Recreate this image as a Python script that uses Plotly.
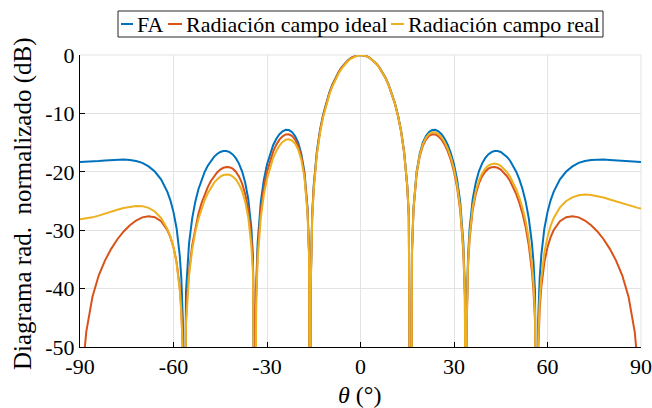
import plotly.graph_objects as go

theta_pos = [0, 1, 2, 3, 4, 5, 6, 7, 8, 9,
             10, 11, 12, 13, 14, 15, 15.5, 16, 16.17, 16.5,
             17, 18, 19, 20, 21, 22, 23, 24, 25, 26,
             27, 28, 29, 30, 31, 32, 33, 33.5, 33.84, 34,
             34.5, 35, 36, 37, 38, 39, 40, 41, 42, 43,
             44, 45, 46, 47, 48, 49, 50, 51, 52, 53,
             54, 55, 55.5, 56, 56.63, 57, 57.5, 58, 59, 60,
             61, 62, 64, 66, 68, 70, 72, 74, 76, 78,
             80, 82, 84, 86, 88, 89, 90]

# FA (symmetric), dB
fa_pos = [0, -0.06, -0.22, -0.50, -0.90, -1.43, -2.08, -2.89, -3.86, -5.03,
          -6.43, -8.12, -10.21, -12.87, -16.52, -22.3, -27.35, -39.7, -100, -33.8,
          -26.2, -19.97, -16.89, -15.02, -13.87, -13.18, -12.85, -12.82, -13.06, -13.57,
          -14.34, -15.41, -16.85, -18.76, -21.36, -25.2, -32.2, -40.1, -100, -46.5,
          -34.5, -29.8, -24.7, -21.83, -19.91, -18.59, -17.66, -17.03, -16.64, -16.45,
          -16.45, -16.61, -16.95, -17.44, -18.10, -18.96, -20.02, -21.34, -22.99, -25.11,
          -27.96, -32.2, -35.4, -40.5, -100, -45.5, -38.1, -34.3, -29.70, -26.9,
          -24.89, -23.40, -21.30, -19.95, -19.07, -18.48, -18.14, -17.96, -17.89, -17.91,
          -17.98, -18.07, -18.16, -18.25, -18.30, -18.31, -18.32]

# Radiación campo ideal (symmetric), dB
ideal_pos = [0, -0.06, -0.23, -0.51, -0.92, -1.46, -2.13, -2.96, -3.95, -5.14,
             -6.56, -8.28, -10.40, -13.10, -16.78, -22.60, -27.67, -40.04, -100, -34.17,
             -26.59, -20.41, -17.38, -15.56, -14.47, -13.84, -13.57, -13.61, -13.92, -14.50,
             -15.34, -16.50, -18.01, -20.01, -22.70, -26.63, -33.73, -41.68, -100, -48.13,
             -36.18, -31.53, -26.54, -23.78, -21.98, -20.78, -19.98, -19.47, -19.22, -19.17,
             -19.31, -19.62, -20.11, -20.76, -21.58, -22.62, -23.86, -25.36, -27.20, -29.52,
             -32.58, -37.03, -40.34, -45.55, -100, -50.78, -43.49, -39.81, -35.46, -32.92,
             -31.18, -29.97, -28.46, -27.77, -27.60, -27.80, -28.34, -29.15, -30.21, -31.55,
             -33.19, -35.20, -37.77, -41.38, -47.44, -53.47, -100]

# Radiación campo real, positive angles, dB
real_pos = [0, -0.06, -0.23, -0.52, -0.92, -1.46, -2.12, -2.94, -3.92, -5.10,
            -6.51, -8.22, -10.32, -13.00, -16.66, -22.46, -27.52, -39.88, -100, -34.0,
            -26.4, -20.20, -17.15, -15.31, -14.19, -13.53, -13.24, -13.24, -13.53, -14.09,
            -14.92, -16.06, -17.57, -19.56, -22.24, -26.17, -33.25, -41.1, -100, -47.6,
            -35.7, -31.05, -26.05, -23.29, -21.48, -20.27, -19.46, -18.95, -18.69, -18.60,
            -18.70, -18.98, -19.45, -20.06, -20.85, -21.83, -23.02, -24.46, -26.24, -28.48,
            -31.46, -35.82, -39.1, -44.25, -100, -49.37, -42.0, -38.3, -33.82, -31.15,
            -29.26, -27.90, -26.10, -25.00, -24.37, -24.03, -23.89, -23.96, -24.14, -24.41,
            -24.73, -25.07, -25.41, -25.75, -26.05, -26.18, -26.27]

# Radiación campo real, negative angles (same |theta| order as theta_pos), dB
real_neg = [0, -0.09, -0.29, -0.61, -1.04, -1.61, -2.29, -3.14, -4.14, -5.35,
            -6.79, -8.53, -10.67, -13.40, -17.12, -22.98, -28.07, -40.45, -100, -34.59,
            -27.03, -20.89, -17.92, -16.17, -15.17, -14.63, -14.43, -14.52, -14.89, -15.52,
            -16.42, -17.61, -19.18, -21.21, -23.94, -27.9, -35.02, -42.86, -100, -49.35,
            -37.45, -32.85, -27.87, -25.11, -23.31, -22.11, -21.31, -20.80, -20.52, -20.45,
            -20.55, -20.83, -21.30, -21.91, -22.70, -23.68, -24.87, -26.31, -28.09, -30.33,
            -33.31, -37.67, -40.94, -46.1, -100, -51.22, -43.88, -40.15, -35.67, -33.0,
            -31.11, -29.75, -27.9, -26.80, -26.17, -25.88, -25.84, -25.96, -26.19, -26.51,
            -26.88, -27.22, -27.51, -27.80, -28.0, -28.06, -28.12]

series_names = ["FA", "Radiación campo ideal", "Radiación campo real"]
series_colors = ["#0072BD", "#D95319", "#EDB120"]

x_ticks = [-90, -60, -30, 0, 30, 60, 90]
x_ticklabels = ["-90", "-60", "-30", "0", "30", "60", "90"]
y_ticks = [-50, -40, -30, -20, -10, 0]
y_ticklabels = ["-50", "-40", "-30", "-20", "-10", "0"]

theta = [-t for t in reversed(theta_pos)] + theta_pos[1:]
fa = list(reversed(fa_pos)) + fa_pos[1:]
ideal = list(reversed(ideal_pos)) + ideal_pos[1:]
real = list(reversed(real_neg)) + real_pos[1:]

W, H = 652, 408
L, R, T, B = 80, 11, 55, 61
PW, PH = W - L - R, H - T - B


def px(x):
    return (x - L) / PW


def py(y):
    return (H - B - y) / PH


FONT = "Liberation Serif"
GRID = "#e3e3e3"
fig = go.Figure()
for yv, nm, col in zip([fa, ideal, real], series_names, series_colors):
    fig.add_trace(go.Scatter(x=theta, y=yv, mode="lines", name=nm,
                             line=dict(color=col, width=2), showlegend=False))

# manual MATLAB-like legend
leg_items = [(121, 133, 135), (168, 182, 184), (391, 404, 406)]
shapes = [dict(type="rect", xref="paper", yref="paper", x0=px(118), x1=px(603),
               y0=py(37), y1=py(11), line=dict(color="#262626", width=1),
               fillcolor="white", layer="above")]
annotations = []
for (sx0, sx1, tx), nm, col in zip(leg_items, series_names, series_colors):
    shapes.append(dict(type="line", xref="paper", yref="paper", x0=px(sx0), x1=px(sx1),
                       y0=py(24), y1=py(24), line=dict(color=col, width=2), layer="above"))
    annotations.append(dict(text=nm, xref="paper", yref="paper", x=px(tx), y=py(24.5),
                            xanchor="left", yanchor="middle", showarrow=False,
                            font=dict(family=FONT, size=22, color="black")))
# light grey top/right border (MATLAB grid at the limits)
shapes.append(dict(type="line", xref="paper", yref="paper", x0=0, x1=1, y0=1, y1=1,
                   line=dict(color=GRID, width=1), layer="below"))
shapes.append(dict(type="line", xref="paper", yref="paper", x0=1, x1=1, y0=0, y1=1,
                   line=dict(color=GRID, width=1), layer="below"))
# axis titles
annotations.append(dict(text="<i>θ</i> (°)", xref="paper", yref="paper", x=px(359), y=py(395),
                        xanchor="center", yanchor="middle", showarrow=False,
                        font=dict(family=FONT, size=24, color="black")))
annotations.append(dict(text="Diagrama rad.\u00a0 normalizado (dB)", xref="paper", yref="paper",
                        x=px(23), y=py(204), xanchor="center", yanchor="middle",
                        textangle=-90, showarrow=False,
                        font=dict(family=FONT, size=25, color="black")))

fig.update_layout(
    width=W, height=H,
    margin=dict(l=L, r=R, t=T, b=B, autoexpand=False),
    paper_bgcolor="white", plot_bgcolor="white",
    font=dict(family=FONT, size=22, color="black"),
    showlegend=False,
    shapes=shapes, annotations=annotations,
)
fig.update_xaxes(range=[-90, 90], tickvals=x_ticks, ticktext=x_ticklabels,
                 ticks="inside", ticklen=5, tickcolor="black", showline=True,
                 linecolor="black", linewidth=1, showgrid=True, gridcolor=GRID,
                 zeroline=False, mirror=False, automargin=False)
fig.update_yaxes(range=[-50, 0], tickvals=y_ticks, ticktext=y_ticklabels,
                 ticks="inside", ticklen=5, tickcolor="black", showline=True,
                 linecolor="black", linewidth=1, showgrid=True, gridcolor=GRID,
                 zeroline=False, mirror=False, automargin=False)

fig.write_html("out.html", config={"displayModeBar": False},
               post_script="document.body.style.margin='0';document.body.style.overflow='hidden';")
